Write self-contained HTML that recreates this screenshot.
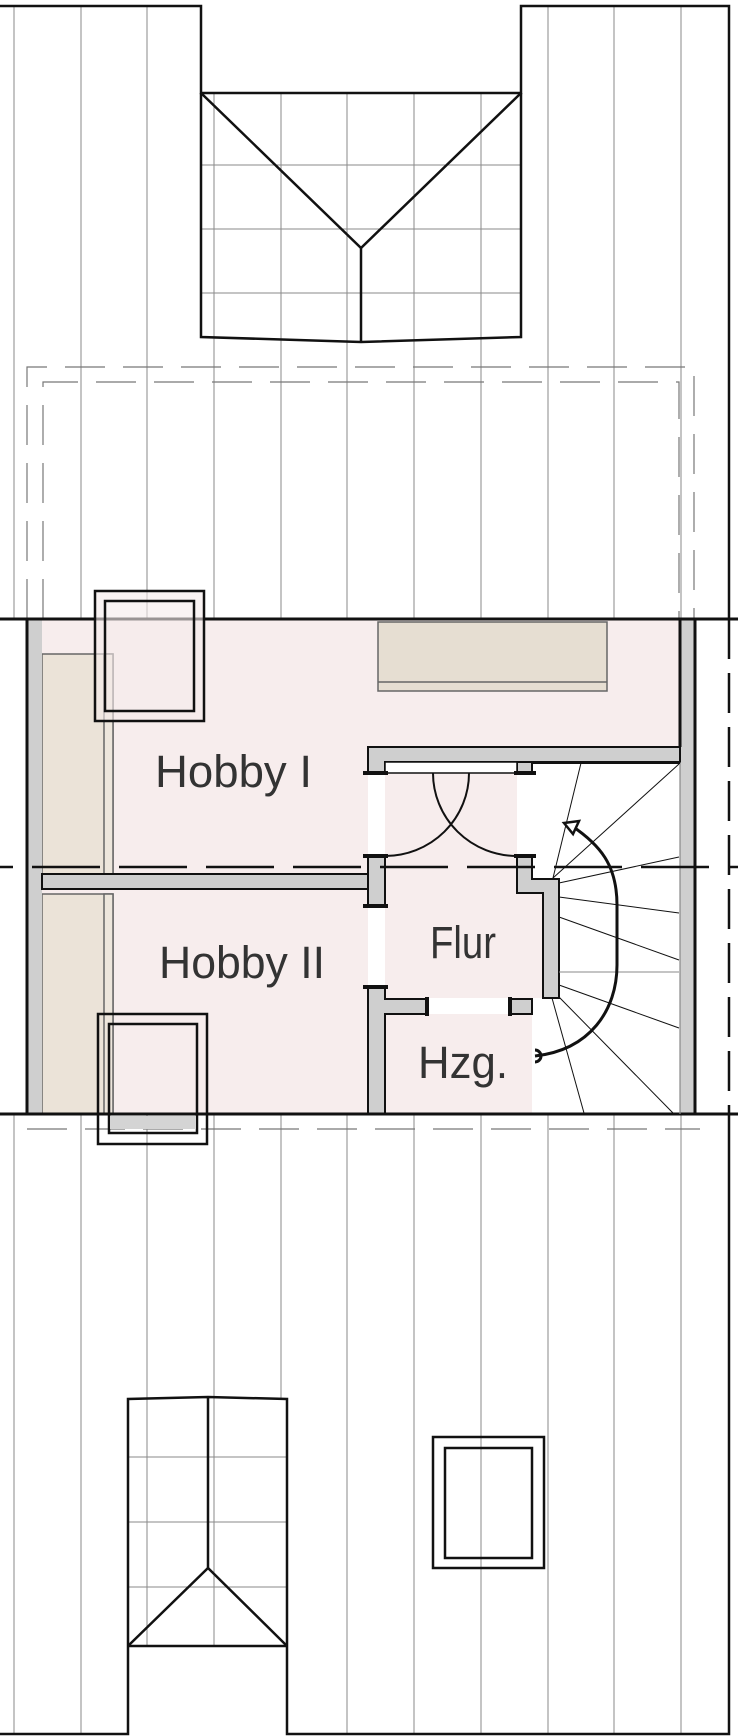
<!DOCTYPE html>
<html><head><meta charset="utf-8"><style>
html,body{margin:0;padding:0;background:#fff;}
svg{display:block;}
text{font-family:"Liberation Sans",sans-serif;fill:#333;font-size:45px;}
</style></head><body>
<svg width="738" height="1736" viewBox="0 0 738 1736" xmlns="http://www.w3.org/2000/svg">
<!-- grid lines top -->
<g stroke="#8a8a8a" stroke-width="1">
  <line x1="14" y1="5" x2="14" y2="619"/><line x1="81" y1="5" x2="81" y2="619"/>
  <line x1="147" y1="5" x2="147" y2="619"/><line x1="214" y1="93" x2="214" y2="619"/>
  <line x1="281" y1="93" x2="281" y2="619"/><line x1="347" y1="93" x2="347" y2="619"/>
  <line x1="414" y1="93" x2="414" y2="619"/><line x1="481" y1="93" x2="481" y2="619"/>
  <line x1="548" y1="5" x2="548" y2="619"/><line x1="614" y1="5" x2="614" y2="619"/>
  <line x1="681" y1="5" x2="681" y2="619"/>
  <!-- bottom -->
  <line x1="14" y1="1114" x2="14" y2="1734"/><line x1="81" y1="1114" x2="81" y2="1734"/>
  <line x1="147" y1="1114" x2="147" y2="1646"/><line x1="214" y1="1114" x2="214" y2="1646"/>
  <line x1="281" y1="1114" x2="281" y2="1400"/><line x1="347" y1="1114" x2="347" y2="1734"/>
  <line x1="414" y1="1114" x2="414" y2="1734"/><line x1="481" y1="1114" x2="481" y2="1734"/>
  <line x1="548" y1="1114" x2="548" y2="1734"/><line x1="614" y1="1114" x2="614" y2="1734"/>
  <line x1="681" y1="1114" x2="681" y2="1734"/>
  <!-- dormer top horizontals -->
  <line x1="201" y1="165" x2="521" y2="165"/><line x1="201" y1="229" x2="521" y2="229"/><line x1="201" y1="293" x2="521" y2="293"/>
  <!-- bottom dormer horizontals -->
  <line x1="128" y1="1457" x2="287" y2="1457"/><line x1="128" y1="1522" x2="287" y2="1522"/><line x1="128" y1="1587" x2="287" y2="1587"/>
</g>
<!-- dashed outline rects -->
<g fill="none" stroke="#777" stroke-width="1.2" stroke-dasharray="40 18">
  <polyline points="27,619 27,367 694,367 694,619"/>
  <polyline points="43,619 43,382 679,382 679,619"/>
  <line x1="27" y1="1129" x2="700" y2="1129"/>
</g>
<!-- roof outline top -->
<g fill="none" stroke="#111" stroke-width="2.5">
  <polyline points="0,6 201,6 201,93 521,93 521,6 729,6 729,619"/>
  <polyline points="201,93 201,337 361,342 521,337 521,93"/>
  <polyline points="201,93 361,248 521,93"/>
  <line x1="361" y1="248" x2="361" y2="342"/>
  <!-- bottom -->
  <polyline points="0,1734 128,1734 128,1399 208,1397 287,1399 287,1734 729,1734 729,1114"/>
  <line x1="128" y1="1646" x2="287" y2="1646"/>
  <polyline points="128,1646 208,1568 287,1646"/>
  <line x1="208" y1="1397" x2="208" y2="1568"/>
  <rect x="433" y="1437" width="111" height="131"/>
  <rect x="445" y="1448" width="87" height="110"/>
  <line x1="729" y1="619" x2="729" y2="1114" stroke-dasharray="40 14"/>
</g>
<!-- house floor -->
<rect x="27" y="619" width="668" height="495" fill="#fff"/>
<g fill="#f7eded">
  <rect x="42" y="619" width="638" height="128"/>
  <rect x="42" y="747" width="326" height="127"/>
  <rect x="42" y="889" width="326" height="225"/>
  <rect x="385" y="762" width="132" height="236"/>
  <rect x="517" y="893" width="26" height="105"/>
  <rect x="385" y="1014" width="147" height="100"/>
</g>
<!-- door openings white -->
<rect x="368" y="773" width="17" height="83" fill="#fff"/>
<rect x="368" y="906" width="17" height="81" fill="#fff"/>
<rect x="427" y="999" width="83" height="15" fill="#fff"/>
<!-- closets -->
<g stroke="#666" stroke-width="1.5">
  <rect x="42" y="654" width="71" height="220" fill="#ebe3d8"/>
  <rect x="104" y="654" width="9" height="220" fill="#ede6dc"/>
  <rect x="42" y="894" width="71" height="220" fill="#ebe3d8"/>
  <rect x="104" y="894" width="9" height="220" fill="#ede6dc"/>
  <rect x="378" y="622" width="229" height="69" fill="#e6ded2"/>
  <line x1="378" y1="682" x2="607" y2="682"/>
</g>
<!-- walls -->
<g fill="#cfcfcf" stroke="#111" stroke-width="2">
  <rect x="27" y="619" width="15" height="495" stroke="none"/>
  <rect x="680" y="619" width="15" height="495" stroke="none"/>
  <rect x="42" y="874" width="326" height="15"/>
  <path d="M368,747 H680 V762 H385 V773 H368 Z"/>
  <rect x="517" y="762" width="15" height="11"/>
  <path d="M368,856 H385 V906 H368 Z"/>
  <path d="M368,987 H385 V999 H427 V1014 H385 V1114 H368 Z"/>
  <path d="M517,856 H532 V879 H559 V998 H543 V893 H517 Z"/>
  <rect x="510" y="999" width="22" height="15"/>
</g>
<rect x="385" y="762" width="132" height="11" fill="#fff" stroke="#111" stroke-width="1.5"/>
<g stroke="#111" stroke-width="4">
  <line x1="363" y1="773" x2="388" y2="773"/><line x1="514" y1="773" x2="536" y2="773"/>
  <line x1="363" y1="856" x2="388" y2="856"/><line x1="514" y1="856" x2="536" y2="856"/>
  <line x1="363" y1="906" x2="388" y2="906"/><line x1="363" y1="987" x2="388" y2="987"/>
  <line x1="427" y1="997" x2="427" y2="1016"/><line x1="510" y1="997" x2="510" y2="1016"/>
</g>
<g stroke="#111" stroke-width="3" fill="none">
  <line x1="0" y1="619" x2="738" y2="619"/>
  <line x1="0" y1="1114" x2="738" y2="1114"/>
  <line x1="27" y1="619" x2="27" y2="1114"/>
  <line x1="695" y1="619" x2="695" y2="1114"/>
  <line x1="680" y1="619" x2="680" y2="747"/>
</g>
<line x1="680" y1="762" x2="680" y2="1114" stroke="#888" stroke-width="1.2"/>
<!-- door arcs -->
<g stroke="#111" stroke-width="2" fill="none">
  <path d="M385,856 A84,83 0 0 0 469,773"/>
  <path d="M433,773 A84,83 0 0 0 517,856"/>
</g>
<!-- stairs -->
<g stroke="#111" stroke-width="1">
  <line x1="553" y1="878" x2="581" y2="763"/>
  <line x1="553" y1="878" x2="679" y2="764"/>
  <line x1="559" y1="883" x2="679" y2="857"/>
  <line x1="559" y1="897" x2="679" y2="913"/>
  <line x1="559" y1="917" x2="679" y2="960"/>
  <line x1="559" y1="972" x2="679" y2="972" stroke="#888"/>
  <line x1="559" y1="985" x2="679" y2="1028"/>
  <line x1="559" y1="997" x2="673" y2="1113"/>
  <line x1="552" y1="998" x2="584" y2="1113"/>
  <line x1="532" y1="763" x2="680" y2="763" stroke-width="2"/>
</g>
<g stroke="#111" stroke-width="3" fill="none">
  <path d="M535,1056 C590,1050 617,1010 617,965 L617,905 C617,865 600,845 572,826"/>
  <path d="M535,1050 A6,6 0 0 1 535,1062"/>
  <polygon points="564,823 579,821 573,834" stroke-width="2.5" fill="#fff"/>
</g>
<!-- roof windows -->
<g stroke="#111" stroke-width="2.5" fill="none">
  <rect x="95" y="591" width="109" height="130" fill="rgba(245,235,235,0.6)"/>
  <rect x="105" y="601" width="89" height="110"/>
  <rect x="98" y="1014" width="109" height="130"/>
  <rect x="109" y="1024" width="88" height="109"/>
</g>
<rect x="110" y="1116" width="86" height="13" fill="#d4d4d4"/>
<!-- center dashed line -->
<line x1="0" y1="867" x2="738" y2="867" stroke="#111" stroke-width="2.5" stroke-dasharray="68 19" stroke-dashoffset="55"/>
<!-- labels -->
<text x="155" y="787" textLength="157" lengthAdjust="spacingAndGlyphs">Hobby I</text>
<text x="159" y="978" textLength="166" lengthAdjust="spacingAndGlyphs">Hobby II</text>
<text x="430" y="958" textLength="66" lengthAdjust="spacingAndGlyphs">Flur</text>
<text x="418" y="1078" textLength="90" lengthAdjust="spacingAndGlyphs">Hzg.</text>
</svg>
</body></html>
